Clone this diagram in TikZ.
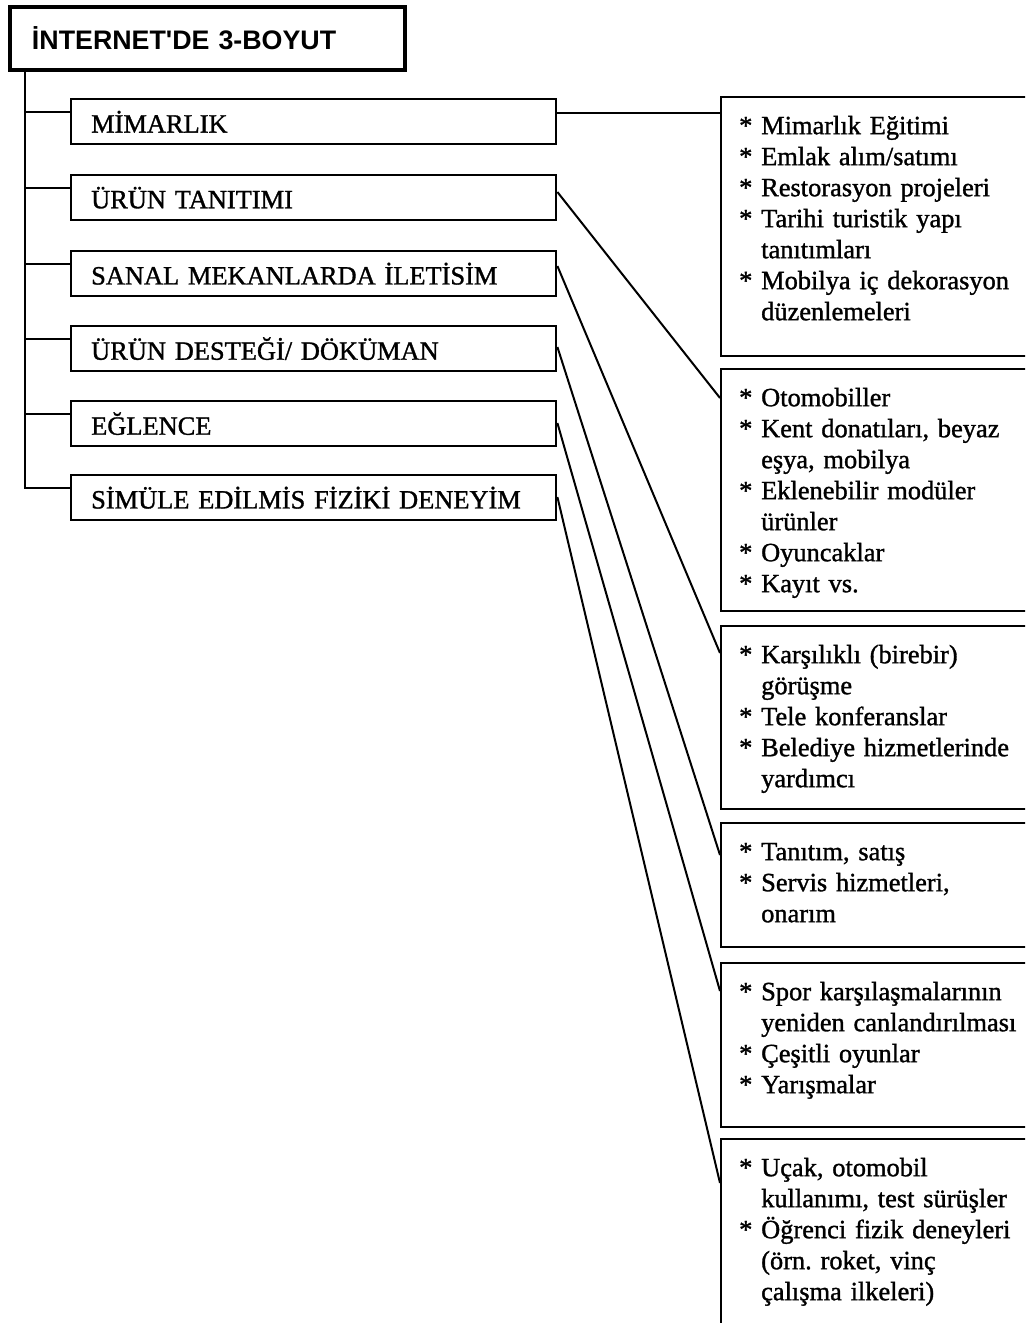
\documentclass[tikz,border=0pt]{standalone}
\usepackage{fontspec}
\setmainfont{Liberation Serif}[BoldFont={Liberation Serif}, BoldFeatures={FakeBold=1.2}]
\newfontfamily\basfont{Liberation Sans}
\usetikzlibrary{calc, positioning}
\newcommand{\drawk}{\draw[line width=1.3pt]}
\newcommand{\ic}{\hphantom{{*} }}
\tikzset{
  baslikbox/.style={draw, line width=2pt, anchor=north west, minimum height=31.5pt, text width=175.5pt, inner xsep=11pt, align=left, font=\basfont\bfseries\fontsize{13.4}{15.5}\selectfont},
  katbox/.style={draw, line width=1.2pt, anchor=north west, minimum height=22.5pt, text width=222.5pt, inner xsep=10pt, inner ysep=0pt, align=left},
  listbox/.style={draw, line width=1.2pt, anchor=north west, text width=151pt, inner xsep=9pt, inner ysep=9pt, text height=9.5pt, align=left},
  bag/.style={line width=1pt}
}
\frenchspacing

\begin{document}
\begin{tikzpicture}[x=0.5pt, y=-0.5pt, font=\bfseries\fontsize{13.2}{15.5}\selectfont]
\useasboundingbox (0,0) rectangle (1025,1323);
\clip (0,0) rectangle (1025,1323);
% Başlık
\node[baslikbox] (baslik) at (8,5) {İNTERNET'DE 3-BOYUT};
% Alanlar
\node[katbox] (mim) at (70,98) {MİMARLIK};
\node[katbox] (urun) at (70,174) {ÜRÜN TANITIMI};
\node[katbox] (sanal) at (70,250) {SANAL MEKANLARDA İLETİSİM};
\node[katbox] (destek) at (70,325) {ÜRÜN DESTEĞİ/ DÖKÜMAN};
\node[katbox] (eglence) at (70,400) {EĞLENCE};
\node[katbox] (simule) at (70,474) {SİMÜLE EDİLMİS FİZİKİ DENEYİM};
% Uygulamalar
\node[listbox, text depth=102pt] (l1) at (720,96) {{*} Mimarlık Eğitimi\\{*} Emlak alım/satımı\\{*} Restorasyon projeleri\\{*} Tarihi turistik yapı\\\ic tanıtımları\\{*} Mobilya iç dekorasyon\\\ic düzenlemeleri};
\node[listbox, text depth=93.5pt] (l2) at (720,368) {{*} Otomobiller\\{*} Kent donatıları, beyaz\\\ic eşya, mobilya\\{*} Eklenebilir modüler\\\ic ürünler\\{*} Oyuncaklar\\{*} Kayıt vs.};
\node[listbox, text depth=64pt] (l3) at (720,625) {{*} Karşılıklı (birebir)\\\ic görüşme\\{*} Tele konferanslar\\{*} Belediye hizmetlerinde\\\ic yardımcı};
\node[listbox, text depth=34.5pt] (l4) at (720,822) {{*} Tanıtım, satış\\{*} Servis hizmetleri,\\\ic onarım};
\node[listbox, text depth=54.5pt] (l5) at (720,962) {{*} Spor karşılaşmalarının\\\ic yeniden canlandırılması\\{*} Çeşitli oyunlar\\{*} Yarışmalar};
\node[listbox, text depth=90pt] (l6) at (720,1138) {{*} Uçak, otomobil\\\ic kullanımı, test sürüşler\\{*} Öğrenci fizik deneyleri\\\ic (örn. roket, vinç\\\ic çalışma ilkeleri)};
% Ağaç
\coordinate (govde) at ([xshift=8.5pt]baslik.south west);
\foreach \k in {mim,urun,sanal,destek,eglence,simule}
  \coordinate (d-\k) at ([yshift=-7pt]\k.north west);
\drawk (govde) |- (d-simule);
\foreach \k in {mim,urun,sanal,destek,eglence}
  \drawk (govde |- d-\k) -- (d-\k);
% Bağlantılar
\coordinate (m1) at ([yshift=-7.5pt]mim.north east);
\draw[bag] (m1) -- (m1 -| l1.west);
\draw[bag] ([yshift=-9pt]urun.north east) -- ([yshift=-15pt]l2.north west);
\draw[bag] ([yshift=-8pt]sanal.north east) -- ([yshift=-14pt]l3.north west);
\draw[bag] ([yshift=-11pt]destek.north east) -- ([yshift=-16.5pt]l4.north west);
\draw[bag] ([yshift=-11.5pt]eglence.north east) -- ([yshift=-14.5pt]l5.north west);
\draw[bag] ([yshift=-11.5pt]simule.north east) -- ([yshift=-22.5pt]l6.north west);
\end{tikzpicture}
\end{document}
